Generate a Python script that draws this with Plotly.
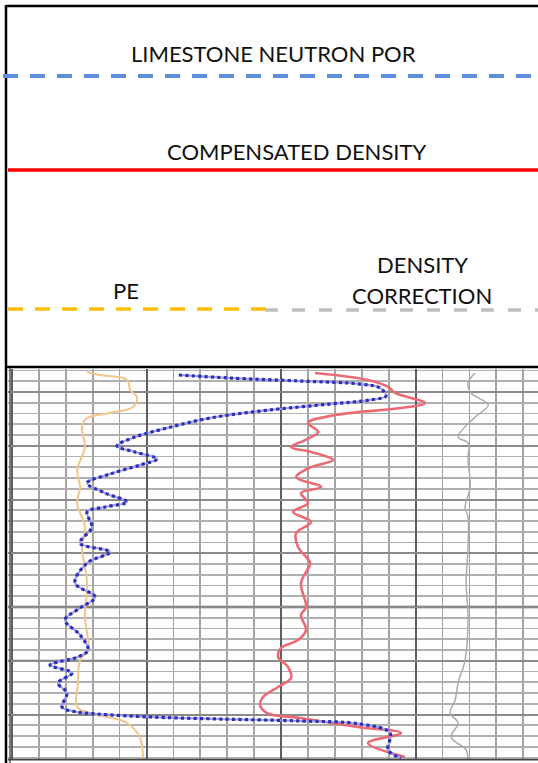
import plotly.graph_objects as go

W, H = 538, 763

# ---------------- data (x in chart scale divisions, y in depth units) -------------
neutron_depth = [4.2, 7.0, 9.8, 12.6, 16.3, 23.7, 27.4, 31.2, 36.7, 44.2, 53.5, 61.9, 70.2, 75.8,
                 82.3, 87.9, 96.3, 104.7, 114.0, 122.3, 127.0, 131.6, 145.6, 160.5, 168.8, 179.1,
                 197.7, 210.7, 220.9, 232.1, 246.0, 260.0, 266.5, 274.0, 281.4, 290.7, 300.0,
                 313.0, 317.7, 319.5, 322.3, 324.2, 326.0, 328.8, 337.2, 353.0, 360.5]
neutron_val = [6.2, 8.10, 10.71, 12.94, 13.68, 13.90, 13.31, 11.82, 9.59, 7.36, 5.76, 4.57, 3.90, 4.57,
               5.39, 4.76, 3.64, 2.79, 3.46, 4.28, 3.46, 2.79, 2.97, 2.53, 3.64, 2.79,
               2.34, 3.09, 2.53, 1.97, 2.53, 2.83, 2.45, 1.41, 2.23, 1.71, 2.04,
               1.86, 2.42, 3.16, 5.13, 7.73, 10.71, 12.94, 14.05, 13.98, 14.46]

density_depth = [2.3, 8.8, 15.3, 20.9, 30.2, 34.9, 41.4, 48.8, 57.2, 64.7, 71.2, 75.8, 83.3, 89.8,
                 99.1, 108.4, 114.0, 123.3, 131.6, 140.9, 151.2, 164.2, 173.5, 179.1, 197.7, 220.0,
                 227.4, 241.4, 250.7, 258.1, 266.5, 275.8, 286.0, 294.4, 303.7, 311.2, 318.6,
                 323.3, 331.6, 337.2, 346.5, 359.5]
density_val = [11.26, 13.23, 13.98, 14.24, 15.35, 14.46, 12.01, 11.00, 11.38, 10.89, 10.37, 11.12, 11.93, 11.12,
               10.56, 11.49, 10.74, 11.00, 10.45, 11.12, 10.56, 10.63, 10.93, 11.08, 10.74, 10.93,
               10.74, 10.93, 10.63, 10.00, 9.89, 10.26, 10.37, 9.89, 9.33, 9.22, 9.48,
               10.71, 12.86, 14.46, 13.23, 14.61]

pe_depth = [1.4, 4.2, 8.8, 18.1, 24.7, 34.0, 39.5, 44.2, 52.6, 71.2, 92.6, 108.4, 123.3, 145.6,
            164.2, 197.7, 229.3, 260.0, 269.3, 290.7, 313.0, 318.6, 327.9, 341.9, 363.3]
pe_val = [2.79, 3.27, 4.28, 4.39, 4.65, 4.50, 3.64, 2.79, 2.60, 2.71, 2.42, 2.53, 2.42, 2.71,
          2.60, 2.79, 2.71, 2.83, 2.53, 2.45, 2.42, 2.90, 4.28, 4.76, 4.87]

dcor_depth = [2.3, 11.6, 20.9, 32.1, 43.3, 61.9, 67.4, 83.3, 108.4, 127.0, 136.3, 164.2, 197.7,
              229.3, 269.3, 290.7, 306.5, 318.6, 327.9, 341.0, 353.0, 362.3]
dcor_val = [17.21, 16.95, 17.06, 17.70, 17.21, 16.58, 16.95, 16.95, 17.03, 16.84, 16.95, 16.95, 16.88,
            16.95, 16.84, 16.58, 16.47, 16.28, 16.58, 16.32, 16.88, 16.95]

legend_labels = ["LIMESTONE NEUTRON POR", "COMPENSATED DENSITY", "PE", "DENSITY", "CORRECTION"]

# ---------------- figure -------------
def px(x):
    return x / W

def py(y):
    return 1 - y / H

fig = go.Figure()

common = dict(mode="lines", line_shape="spline", hoverinfo="skip", showlegend=False)
fig.add_trace(go.Scatter(x=pe_val, y=pe_depth, line=dict(color="#F3C58C", width=2), **common))
fig.add_trace(go.Scatter(x=dcor_val, y=dcor_depth, line=dict(color="#ABABAB", width=1.5), **common))
fig.add_trace(go.Scatter(x=density_val, y=density_depth, line=dict(color="#EC6A74", width=2.6), **common))
fig.add_trace(go.Scatter(x=neutron_val, y=neutron_depth, line=dict(color="#9A9AEA", width=2), **common))
fig.add_trace(go.Scatter(x=neutron_val, y=neutron_depth, line=dict(color="#2F2FB5", width=3.2, dash="dot"), **common))

shapes = []
# heavy depth lines
shapes.append(dict(type="line", xref="x domain", yref="y", x0=0, x1=1, y0=220, y1=220,
                   line=dict(color="#555555", width=2.5), layer="below"))
shapes.append(dict(type="line", xref="x domain", yref="y", x0=0, x1=0.26, y0=270, y1=270,
                   line=dict(color="#6A6A6A", width=2), layer="below"))
# header/frame
shapes.append(dict(type="line", xref="paper", yref="paper", x0=px(6), x1=px(540), y0=py(6), y1=py(6),
                   line=dict(color="#000000", width=2.5)))
shapes.append(dict(type="line", xref="paper", yref="paper", x0=px(6), x1=px(6), y0=py(5), y1=py(763),
                   line=dict(color="#000000", width=2.5)))
shapes.append(dict(type="line", xref="paper", yref="paper", x0=px(6), x1=px(540), y0=py(367), y1=py(367),
                   line=dict(color="#000000", width=2.5)))
shapes.append(dict(type="line", xref="paper", yref="paper", x0=px(10), x1=px(10), y0=py(368), y1=py(763),
                   line=dict(color="#555555", width=1.5)))
shapes.append(dict(type="line", xref="paper", yref="paper", x0=px(8), x1=px(540), y0=py(759.5), y1=py(759.5),
                   line=dict(color="#444444", width=2)))
# legend lines
shapes.append(dict(type="line", xref="paper", yref="paper", x0=px(3), x1=px(540), y0=py(76), y1=py(76),
                   line=dict(color="#5B8FD8", width=4, dash="15px,12px")))
shapes.append(dict(type="line", xref="paper", yref="paper", x0=px(8), x1=px(540), y0=py(170), y1=py(170),
                   line=dict(color="#FF0000", width=3.5)))
shapes.append(dict(type="line", xref="paper", yref="paper", x0=px(8), x1=px(272), y0=py(309), y1=py(309),
                   line=dict(color="#FFC000", width=3.5, dash="15px,12px")))
shapes.append(dict(type="line", xref="paper", yref="paper", x0=px(265), x1=px(540), y0=py(310), y1=py(310),
                   line=dict(color="#BFBFBF", width=3.5, dash="13px,14px")))

font = dict(family="Lato, Noto Sans, sans-serif", size=22, color="#111111")
ann = dict(xref="paper", yref="paper", showarrow=False, font=font, xanchor="center", yanchor="middle")
annotations = [
    dict(text=legend_labels[0], x=px(273), y=py(54), **ann),
    dict(text=legend_labels[1], x=px(297), y=py(152), **ann),
    dict(text=legend_labels[2], x=px(126), y=py(290), **ann),
    dict(text=legend_labels[3], x=px(422), y=py(264), **ann),
    dict(text=legend_labels[4], x=px(422), y=py(296), **ann),
]

fig.update_layout(
    width=W, height=H,
    margin=dict(l=0, r=0, t=0, b=0),
    paper_bgcolor="white", plot_bgcolor="white",
    shapes=shapes, annotations=annotations,
    xaxis=dict(domain=[px(8), 1], range=[-0.149, 19.55], showticklabels=False, ticks="",
               zeroline=False, showline=False,
               tick0=0, dtick=5, showgrid=True, gridcolor="#5E5E5E", gridwidth=2,
               minor=dict(tick0=0, dtick=1, showgrid=True, gridcolor="#A4A4A4", gridwidth=1.7)),
    yaxis=dict(domain=[py(760), py(369)], range=[362.3, -1.4], showticklabels=False, ticks="",
               zeroline=False, showline=False,
               tick0=20, dtick=50, showgrid=True, gridcolor="#8A8A8A", gridwidth=2,
               minor=dict(tick0=0, dtick=10, showgrid=True, gridcolor="#B0B0B0", gridwidth=1.7)),
)

fig.write_html("out.html", config={"displayModeBar": False, "staticPlot": True},
               post_script="document.body.style.margin='0';document.body.style.overflow='hidden';")
